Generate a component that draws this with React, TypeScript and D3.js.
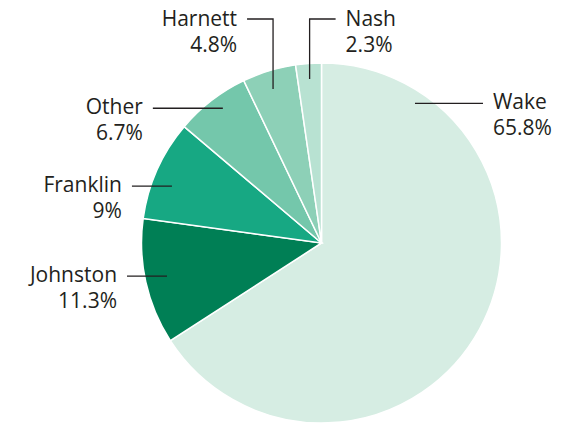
import React from "react";
import * as d3 from "d3";

const categories = ["Wake", "Johnston", "Franklin", "Other", "Harnett", "Nash"];
const values = [65.8, 11.3, 9, 6.7, 4.8, 2.3];
const valueLabels = ["65.8%", "11.3%", "9%", "6.7%", "4.8%", "2.3%"];
const colors = ["#d6ede3", "#007f55", "#17a883", "#74c7ab", "#8dd0b7", "#b8e2d2"];
// where along each slice (fraction of its angle) and at what radius the leader line starts
const leaderFraction = [0.1426, 0.51, 0.4, 0.56, 0.47, 0.5];
const leaderRadius = [168, 158, 160, 167, 161.5, 164.5];

const W = 571;
const H = 425;
const cx = 321.5;
const cy = 243;
const R = 180;
const lineH = 26;
const textColor = "#231f20";
const font = "'Open Sans', 'Noto Sans', sans-serif";
const fontSize = 21;

export default function App() {
  const pie = d3.pie<number>().sort(null).value((d) => d);
  const arcs = pie(values);
  const arc = d3.arc<d3.PieArcDatum<number>>().innerRadius(0).outerRadius(R);

  const labels = arcs.map((a, i) => {
    const ang = a.startAngle + (a.endAngle - a.startAngle) * leaderFraction[i];
    const r = leaderRadius[i];
    return { i, ax: Math.sin(ang) * r, ay: -Math.cos(ang) * r };
  });

  const renderLabel = (l: { i: number; ax: number; ay: number }) => {
    const name = categories[l.i];
    const pct = valueLabels[l.i];
    const x0 = cx + l.ax;
    const y0 = cy + l.ay;
    let path = "";
    let tx = 0;
    let ty = 0;
    let anchor: "start" | "end" = "start";
    if (name === "Wake") {
      const x1 = x0 + 68;
      path = `M${x0},${y0}H${x1}`;
      tx = x1 + 10;
      ty = y0 + 6;
      anchor = "start";
    } else if (name === "Harnett" || name === "Nash") {
      const yTop = 19;
      const dir = name === "Nash" ? 1 : -1;
      const x1 = x0 + dir * 26;
      path = `M${x0},${y0}V${yTop}H${x1}`;
      tx = x1 + dir * 10;
      ty = yTop + 7;
      anchor = dir > 0 ? "start" : "end";
    } else {
      const len = name === "Other" ? 70 : 40;
      const x1 = x0 - len;
      path = `M${x0},${y0}H${x1}`;
      tx = x1 - 10;
      ty = y0 + 6;
      anchor = "end";
    }
    return (
      <g key={name}>
        <path d={path} fill="none" stroke="#231f20" strokeWidth={1.3} />
        <text x={tx} y={ty} textAnchor={anchor} fontFamily={font} fontSize={fontSize} fill={textColor}>
          {name}
        </text>
        <text x={tx} y={ty + lineH} textAnchor={anchor} fontFamily={font} fontSize={fontSize} fill={textColor}>
          {pct}
        </text>
      </g>
    );
  };

  return (
    <svg width={W} height={H} style={{ position: "absolute", left: 0, top: 0, background: "#fff" }}>
      <g transform={`translate(${cx},${cy})`}>
        {arcs.map((a, i) => (
          <path key={categories[i]} d={arc(a) || ""} fill={colors[i]} stroke="#fff" strokeWidth={1.5} />
        ))}
      </g>
      {labels.map(renderLabel)}
    </svg>
  );
}
